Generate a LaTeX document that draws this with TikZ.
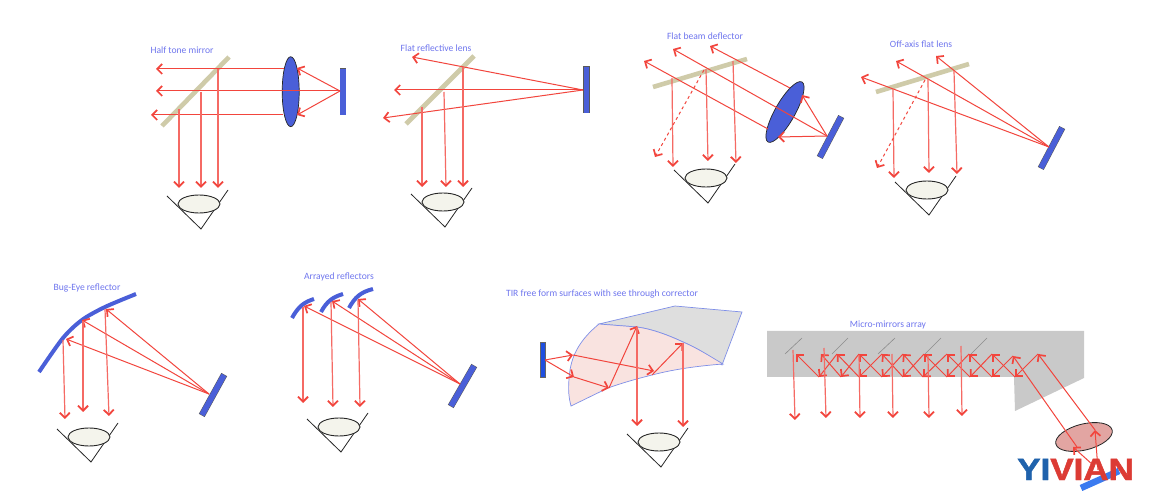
\documentclass[tikz,border=0pt]{standalone}
\usepackage{fontspec}
\setmainfont{Carlito}
\newfontfamily\logofont[BoldFeatures={FakeBold=1.6}]{Liberation Sans}
\usetikzlibrary{arrows.meta}
\definecolor{raycol}{HTML}{F2453D}
\definecolor{labelcol}{HTML}{6F76EE}
\definecolor{mirrorcol}{HTML}{CFCBA9}
\definecolor{bluecol}{HTML}{4A5FD8}
\definecolor{eyefill}{HTML}{F4F4EC}
\definecolor{graycol}{HTML}{C9C9C9}
\definecolor{pinkcol}{HTML}{F9E3E0}
\definecolor{edgecol}{HTML}{7F8FE8}
\definecolor{srccol}{HTML}{1F4FE0}
\definecolor{pinklens}{HTML}{E2A5A2}
\definecolor{brightblue}{HTML}{3B7BF0}
\tikzset{
  x=1pt,y=-1pt,
  ray/.style={draw=raycol,line width=1pt,-{Straight Barb[length=5pt,width=10pt,line width=1.7pt]}},
  fall/.style={draw=raycol!80,line width=1.2pt,-{Straight Barb[length=5pt,width=10pt,line width=1.8pt,color=raycol]}},
  dashray/.style={ray,dashed},
  caption/.style={text=labelcol,font=\fontsize{9.6}{11}\selectfont,inner sep=0pt},
  halfmirror/.style={draw=mirrorcol,line width=4.6pt},
  lensblue/.style={draw=black!85,fill=bluecol,line width=.7pt},
  curved/.style={draw=bluecol,line width=4pt},
  panelout/.style={draw=black!65,line width=6.6pt,shorten >=-.5pt,shorten <=-.5pt},
  panelin/.style={draw=bluecol,line width=5.6pt},
  pics/eyecone/.style={code={
    \draw[black!85,line width=.8pt] (-34,-33) -- (0,0) -- (27,-39);
    \draw[black!85,fill=eyefill,line width=.9pt] (-2,-25) circle [x radius=21pt,y radius=9pt];
  }},
}
\newcommand{\panelbar}[2]{\draw[panelout] #1 -- #2; \draw[panelin] #1 -- #2;}
\begin{document}
\begin{tikzpicture}
\useasboundingbox (0,0) rectangle (1157,502);
\fill[white] (0,0) rectangle (1157,502);

% ---- Panel 1
\node[caption] (t1) at (182,50.5) {Half tone mirror};
\draw[halfmirror] (229,57) -- (162,126);
\draw[lensblue] (290.7,91.7) circle [x radius=8.5pt,y radius=35pt];
\panelbar{(343,69)}{(343,115)}
\draw[ray] (340,91) -- (297,68);
\draw[ray] (340,91) -- (297,115);
\draw[ray] (284,69) -- (156,69);
\draw[ray] (340,91) -- (156,91);
\draw[ray] (283,115) -- (151,115);
\draw[fall] (218,69) -- (218,188);
\draw[fall] (201,92) -- (201,188);
\draw[fall] (179,109) -- (179,188);
\pic at (201,229) {eyecone};

% ---- Panel 2
\node[caption] (t2) at (436,48) {Flat reflective lens};
\draw[halfmirror] (474,56) -- (406,124);
\panelbar{(586.5,67)}{(586.5,113)}
\draw[ray] (583,90) -- (412,57);
\draw[ray] (583,90) -- (394,90);
\draw[ray] (583,90) -- (383,118);
\draw[fall] (463,67) -- (463,187);
\draw[fall] (444,92) -- (446,187);
\draw[fall] (422,107) -- (422,187);
\pic at (445,227) {eyecone};

% ---- Panel 3
\node[caption] (t3) at (705,36) {Flat beam deflector};
\draw[halfmirror] (653,87) -- (747,59);
\draw[lensblue,rotate around={60.5:(785,112)}] (785,112) circle [x radius=34.5pt,y radius=10pt];
\panelbar{(841,117)}{(820,157)}
\draw[ray] (827,136) -- (802,95);
\draw[ray] (827,136) -- (778,137);
\draw[ray] (827,136) -- (673,49);
\draw[ray] (790,88) -- (710,46);
\draw[ray] (768,129) -- (644,61);
\draw[fall] (733,61) -- (736,163);
\draw[fall] (706,69) -- (708,161);
\draw[fall] (672,78) -- (673,167);
\draw[dashray] (704,70) -- (655,157);
\pic at (708,203) {eyecone};

% ---- Panel 4
\node[caption] (t4) at (921,44) {Off-axis flat lens};
\draw[halfmirror] (876,92) -- (969,64);
\panelbar{(1062,128)}{(1041,168)}
\draw[ray] (1049,147) -- (936,56);
\draw[ray] (1049,147) -- (896,61);
\draw[ray] (1049,147) -- (861,77);
\draw[fall] (954,71) -- (957,174);
\draw[fall] (928,79) -- (929,173);
\draw[fall] (893,89) -- (894,178);
\draw[dashray] (925,80) -- (877,168);
\pic at (929,215) {eyecone};

% ---- Panel 5
\node[caption] (t5) at (87,288) {Bug-Eye reflector};
\draw[curved] plot[smooth] coordinates {(39,372) (63,338) (82,320) (105,307) (136,294)};
\panelbar{(224,375)}{(202,415)}
\draw[ray] (209,394) -- (106,309);
\draw[ray] (209,394) -- (82,320);
\draw[ray] (209,394) -- (66,339);
\draw[fall] (105,309) -- (109,416);
\draw[fall] (83,321) -- (83,412);
\draw[fall] (63,340) -- (65,419);
\pic at (91,462) {eyecone};

% ---- Panel 6
\node[caption] (t6) at (339,277) {Arrayed reflectors};
\draw[curved] (292,318) .. controls (298,307) and (304,302) .. (314,299);
\draw[curved] (321,312) .. controls (327,301) and (333,297) .. (343,294);
\draw[curved] (349,308) .. controls (355,297) and (361,292) .. (373,289);
\panelbar{(474,366)}{(451,406)}
\draw[ray] (460,384) -- (358,299);
\draw[ray] (460,384) -- (332,301);
\draw[ray] (460,384) -- (304,306);
\draw[fall] (358,300) -- (360,407);
\draw[fall] (331,302) -- (333,407);
\draw[fall] (303,307) -- (303,403);
\pic at (341,452) {eyecone};

% ---- Panel 7
\node[caption] (t7) at (602,294) {TIR free form surfaces with see through corrector};
\draw[draw=edgecol,fill=black!13,line width=.7pt] (599,324) -- (675,306) -- (742,312) -- (722,365)
  .. controls (708,355) and (697,348) .. (683,342) .. controls (668,335) and (652,329) .. (637,327) -- cycle;
\draw[draw=edgecol,fill=pinkcol,line width=.7pt] (599,324) -- (637,327)
  .. controls (652,329) and (668,335) .. (683,342) .. controls (697,348) and (708,355) .. (723,364)
  .. controls (698,366) and (675,369) .. (652,375) .. controls (636,379) and (622,383) .. (608,388)
  -- (571,406) .. controls (568,395) and (568,385) .. (570,370) .. controls (573,352) and (582,338) .. (599,324) -- cycle;
\draw[draw=black!60,fill=srccol,line width=.4pt] (540,342) rectangle (545.5,377);
\draw[ray] (545,360) -- (573,355);
\draw[ray] (545,360) -- (574,377);
\draw[ray] (573,355) -- (654,371);
\draw[ray] (574,377) -- (609,388);
\draw[ray] (609,388) -- (637,326);
\draw[ray] (652,375) -- (683,343);
\draw[fall] (637,327) -- (637,426);
\draw[fall] (683,343) -- (683,427);
\pic at (661,467) {eyecone};

% ---- Panel 8
\node[caption] (t8) at (888,325) {Micro-mirrors array};
\fill[graycol] (767,331) -- (1084,331) -- (1084,378) -- (1015,411) -- (1014,377) -- (767,377) -- cycle;
\foreach \a/\b/\c/\d in {785/354/802/338,832/354/848/338,878/354/895/338,925/354/941/338,971/354/987/338}
  \draw[black!45,line width=.6pt] (\a,\b) -- (\c,\d);
\foreach \x/\y [remember=\x as \px (initially 1038),remember=\y as \py (initially 354)] in
  {1015/377,992/354,970/377,947/354,923/377,903/354,882/377,859/354,841/377,821/354}
  \draw[ray] (\px,\py) -- (\x,\y);
\foreach \x/\y [remember=\x as \px (initially 1013),remember=\y as \py (initially 356)] in
  {992/377,969/354,947/377,924/354,903/377,882/354,859/377,837/354,819/377,796/354}
  \draw[ray] (\px,\py) -- (\x,\y);
\draw[fall] (793,350) -- (795,420);
\draw[fall] (824,348) -- (826,418);
\draw[fall] (859,355) -- (860,418);
\draw[fall] (892,354) -- (893,418);
\draw[fall] (928,355) -- (929,418);
\draw[fall] (961,346) -- (962,416);
\draw[draw=black!85,fill=pinklens,line width=.8pt,rotate around={14:(1084,437)}] (1084,437) circle [x radius=29pt,y radius=13pt];
\draw[draw=brightblue,line width=6.5pt] (1081,488) -- (1119,471);
\draw[ray] (1098,470) -- (1095,430);
\draw[ray] (1093,465) -- (1073,447);
\draw[ray] (1095,430) -- (1038,354);
\draw[ray] (1077,447) -- (1013,356);

% ---- Logo
\node[inner sep=0pt,anchor=base west,font=\logofont\bfseries\fontsize{30.7}{32}\selectfont,xscale=1.14] (logo) at (1017,480)
  {\textcolor[HTML]{1F62AC}{YI}\textcolor[HTML]{DC3B34}{VIAN}};
\end{tikzpicture}
\end{document}
